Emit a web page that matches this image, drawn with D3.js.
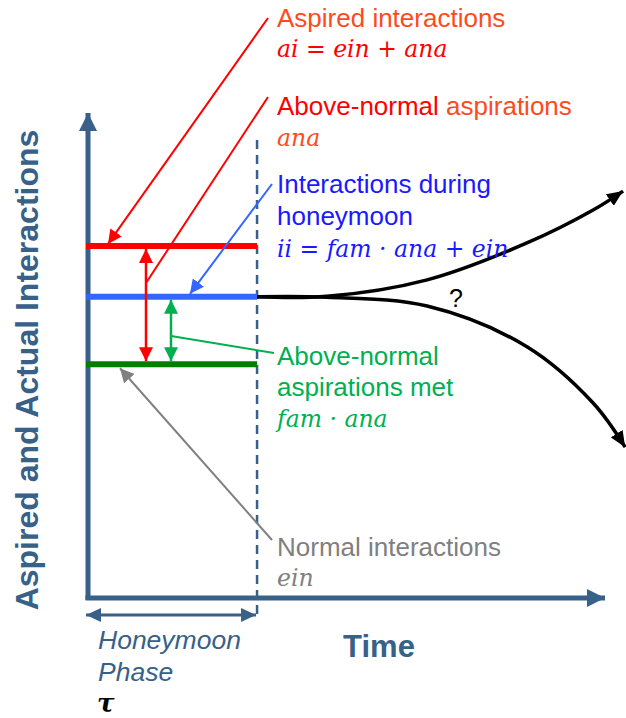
<!DOCTYPE html>
<html>
<head>
<meta charset="utf-8">
<script src="https://cdn.jsdelivr.net/npm/d3@7"></script>
<style>
  html, body { margin: 0; padding: 0; background: #fff; }
  svg { display: block; }
  .sans { font-family: "Liberation Sans", Arial, sans-serif; }
  .math { font-family: "DejaVu Serif", "Liberation Serif", serif; font-style: italic; }
</style>
</head>
<body>
<svg id="chart" width="626" height="718"></svg>
<script>
// Data (chart units: time 0..100, interactions 0..100)
const levelKeys = ['ai', 'ii', 'ein'];
const levelValues = [72.6, 62.1, 48.2];
const tau = 32.7;
const upperT = [32.7, 46.2, 65.6, 84.9, 97.7, 103.5];
const upperY = [62.1, 62.2, 65.6, 73.2, 80.0, 83.9];
const lowerT = [32.7, 46.2, 65.6, 84.9, 97.7, 103.9];
const lowerY = [62.1, 62.0, 60.2, 51.8, 40.2, 31.1];

const axisColor = '#376188';
const levelColors = { ai: '#ff0000', ii: '#3366ff', ein: '#008000' };

const svg = d3.select('#chart');
const x = d3.scaleLinear().domain([0, 100]).range([88, 605]);
const y = d3.scaleLinear().domain([0, 100]).range([598, 113]);

// arrow markers
const defs = svg.append('defs');
function marker(id, color, w, h) {
    defs.append('marker')
        .attr('id', id)
        .attr('viewBox', `0 ${-h / 2} ${w} ${h}`)
        .attr('refX', w).attr('refY', 0)
        .attr('markerWidth', w).attr('markerHeight', h)
        .attr('markerUnits', 'userSpaceOnUse')
        .attr('orient', 'auto-start-reverse')
        .append('path')
        .attr('d', `M0,${-h / 2}L${w},0L0,${h / 2}Z`)
        .attr('fill', color);
}
marker('axisHead', axisColor, 18, 18);
marker('smallAxisHead', axisColor, 15, 14);
marker('redHead', '#ff0000', 14, 14);
marker('blueHead', '#3366ff', 14, 14);
marker('greenHead', '#00b050', 14, 14);
marker('grayHead', '#808080', 14, 14);
marker('blackHead', '#000', 16, 14);

// axes
svg.append('line')
    .attr('x1', x(0)).attr('y1', y(0) + 2)
    .attr('x2', x(0)).attr('y2', y(100))
    .attr('stroke', axisColor).attr('stroke-width', 5)
    .attr('marker-end', 'url(#axisHead)');
svg.append('line')
    .attr('x1', x(0) - 2.5).attr('y1', y(0))
    .attr('x2', x(100)).attr('y2', y(0))
    .attr('stroke', axisColor).attr('stroke-width', 5)
    .attr('marker-end', 'url(#axisHead)');

// honeymoon boundary
svg.append('line')
    .attr('x1', x(tau)).attr('y1', 140)
    .attr('x2', x(tau)).attr('y2', 616)
    .attr('stroke', axisColor).attr('stroke-width', 2.5)
    .attr('stroke-dasharray', '9,6');
svg.append('line')
    .attr('x1', x(tau) - 1).attr('y1', 615)
    .attr('x2', x(0) - 2).attr('y2', 615)
    .attr('stroke', axisColor).attr('stroke-width', 3)
    .attr('marker-start', 'url(#smallAxisHead)')
    .attr('marker-end', 'url(#smallAxisHead)');

// level lines
svg.selectAll('line.level')
    .data(levelKeys)
    .join('line')
    .attr('class', 'level')
    .attr('x1', x(0) - 2).attr('x2', x(tau))
    .attr('y1', (d, i) => y(levelValues[i]))
    .attr('y2', (d, i) => y(levelValues[i]))
    .attr('stroke', d => levelColors[d])
    .attr('stroke-width', 6);

// future paths
const line = d3.line().curve(d3.curveCatmullRom.alpha(0.5));
[[upperT, upperY], [lowerT, lowerY]].forEach(([ts, ys]) => {
    svg.append('path')
        .attr('d', line(ts.map((t, i) => [x(t), y(ys[i])])))
        .attr('fill', 'none')
        .attr('stroke', '#000').attr('stroke-width', 3.5)
        .attr('marker-end', 'url(#blackHead)');
});

// double arrows for gaps
const aiY = y(levelValues[0]), iiY = y(levelValues[1]), einY = y(levelValues[2]);
svg.append('line')
    .attr('x1', 146).attr('y1', aiY + 3).attr('x2', 146).attr('y2', einY - 3)
    .attr('stroke', '#ff0000').attr('stroke-width', 2.5)
    .attr('marker-start', 'url(#redHead)').attr('marker-end', 'url(#redHead)');
svg.append('line')
    .attr('x1', 171).attr('y1', iiY + 3).attr('x2', 171).attr('y2', einY - 3)
    .attr('stroke', '#00b050').attr('stroke-width', 2.5)
    .attr('marker-start', 'url(#greenHead)').attr('marker-end', 'url(#greenHead)');

// leader lines
function leader(x1, y1, x2, y2, color, head) {
    const l = svg.append('line')
        .attr('x1', x1).attr('y1', y1).attr('x2', x2).attr('y2', y2)
        .attr('stroke', color).attr('stroke-width', 2);
    if (head) l.attr('marker-end', `url(#${head})`);
}
leader(268, 18, 108, aiY - 2, '#ff0000', 'redHead');
leader(268, 97, 146, 283, '#ff0000', null);
leader(272, 184, 190, iiY - 3, '#3366ff', 'blueHead');
leader(171, 336, 274, 353, '#00b050', null);
leader(272, 540, 120, einY + 4, '#808080', 'grayHead');

// labels
function label(txt, lx, ly, color, cls, size) {
    return svg.append('text')
        .attr('x', lx).attr('y', ly)
        .attr('class', cls)
        .attr('fill', color)
        .style('font-size', size + 'px')
        .text(txt);
}
label('Aspired interactions', 277, 27, '#ff4a1c', 'sans', 26);
label('ai = ein + ana', 277, 57, '#ff0000', 'math', 23.5);
const an = label('Above-normal ', 277, 115, '#ff0000', 'sans', 26);
an.append('tspan').attr('fill', '#ff4a1c').text('aspirations');
label('ana', 277, 146, '#ff4a1c', 'math', 23.5);
label('Interactions during', 277, 193, '#1a1aff', 'sans', 26);
label('honeymoon', 277, 225, '#1a1aff', 'sans', 26);
label('ii = fam \u00b7 ana + ein', 277, 257, '#1a1aff', 'math', 23.5);
label('?', 449, 307, '#000', 'sans', 25);
label('Above-normal', 277, 365, '#00b050', 'sans', 26);
label('aspirations met', 277, 396, '#00b050', 'sans', 26);
label('fam \u00b7 ana', 277, 427, '#00b050', 'math', 23.5);
label('Normal interactions', 277, 556, '#808080', 'sans', 26);
label('ein', 277, 586, '#808080', 'math', 23.5);

label('Honeymoon', 98, 649, axisColor, 'sans', 26.5).style('font-style', 'italic');
label('Phase', 98, 681, axisColor, 'sans', 26.5).style('font-style', 'italic');
label('\u03c4', 97, 712, '#000', 'math', 26).style('font-weight', 'bold');

svg.append('text')
    .attr('x', 379).attr('y', 657)
    .attr('text-anchor', 'middle')
    .attr('class', 'sans')
    .attr('fill', axisColor)
    .style('font-size', '31px').style('font-weight', 'bold')
    .text('Time');

svg.append('text')
    .attr('transform', 'translate(38,370) rotate(-90)')
    .attr('text-anchor', 'middle')
    .attr('class', 'sans')
    .attr('fill', axisColor)
    .style('font-size', '32px').style('font-weight', 'bold')
    .text('Aspired and Actual Interactions');
</script>
</body>
</html>
